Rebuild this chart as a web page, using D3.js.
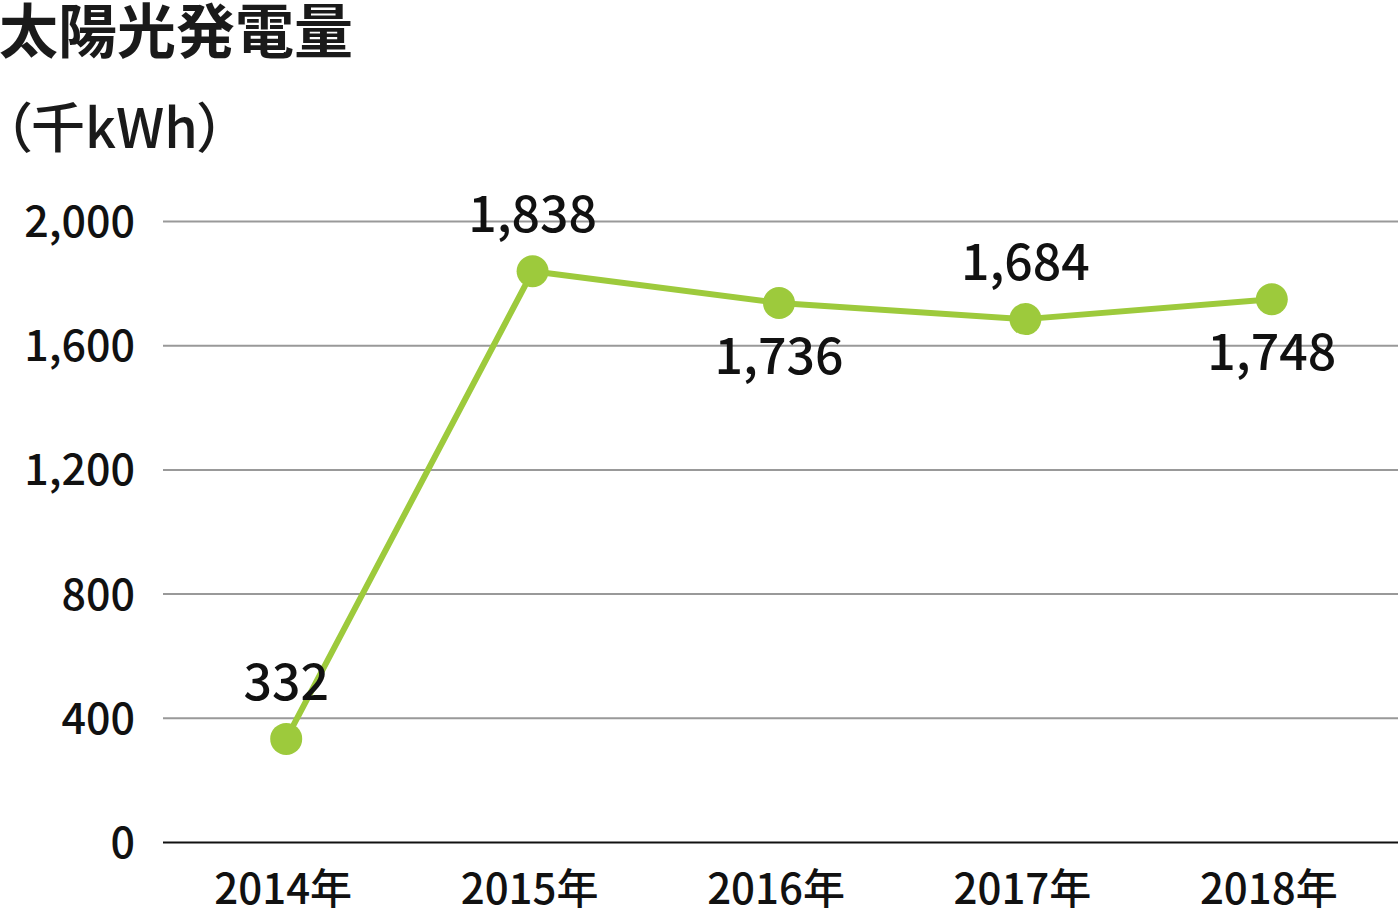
<!DOCTYPE html>
<html><head><meta charset="utf-8">
<script src="https://cdn.jsdelivr.net/npm/d3@7"></script>
<style>
html,body{margin:0;padding:0;background:#fff;}
text{font-family:"Noto Sans CJK JP","Noto Sans",sans-serif;}
</style></head>
<body><svg id="c" width="1398" height="911"></svg>
<script>
const categories = ["2014年","2015年","2016年","2017年","2018年"];
const values = [332, 1838, 1736, 1684, 1748];
const labelPos = ["above","above","below","above","below"];
const yTicks = [0, 400, 800, 1200, 1600, 2000];

const svg = d3.select("#c");
const mLeft = 163, mRight = 1398, mTop = 221, mBottom = 842;
const x = d3.scaleBand().domain(categories).range([mLeft, 1395]);
const y = d3.scaleLinear().domain([0, 2000]).range([mBottom, mTop]);
const fmt = d3.format(",");

svg.append("text").attr("x", -1).attr("y", 53).attr("font-size", 59).attr("font-weight", 700)
  .attr("fill", "#1a1a1a").text("太陽光発電量");
svg.append("text").attr("x", 4).attr("y", 148).attr("font-size", 54).attr("font-weight", 500)
  .style("font-feature-settings", '"palt" 1')
  .attr("fill", "#1a1a1a").text("（千kWh）");

const yAxis = d3.axisLeft(y).tickValues(yTicks).tickFormat(fmt).tickSize(-(mRight - mLeft)).tickPadding(28);
const gy = svg.append("g").attr("transform", `translate(${mLeft},0)`).call(yAxis);
gy.select(".domain").remove();
gy.selectAll(".tick line").attr("stroke", d => d === 0 ? "#111" : "#999").attr("stroke-width", 2);
gy.selectAll(".tick text").attr("font-size", 43).attr("font-weight", 500).attr("fill", "#111")
  .attr("font-family", '"Noto Sans CJK JP","Noto Sans",sans-serif').attr("dy", "0.36em");

const xAxis = d3.axisBottom(x).tickSize(0).tickPadding(0);
const gx = svg.append("g").attr("transform", `translate(0,${mBottom})`).call(xAxis);
gx.select(".domain").remove();
gx.selectAll(".tick text").attr("font-size", 42).attr("font-weight", 500).attr("fill", "#111")
  .attr("font-family", '"Noto Sans CJK JP","Noto Sans",sans-serif').attr("dy", null).attr("y", 62).attr("dx", -3);

const data = categories.map((c, i) => ({c, v: values[i], pos: labelPos[i]}));
const cx = d => x(d.c) + x.bandwidth() / 2;
const line = d3.line().x(cx).y(d => y(d.v));
svg.append("path").datum(data).attr("d", line).attr("fill", "none")
  .attr("stroke", "#9dca3c").attr("stroke-width", 6).attr("stroke-linejoin", "round");
svg.selectAll("circle.pt").data(data).join("circle").attr("class", "pt")
  .attr("cx", cx).attr("cy", d => y(d.v)).attr("r", 16).attr("fill", "#9dca3c");
svg.selectAll("text.lbl").data(data).join("text").attr("class", "lbl")
  .attr("x", cx).attr("y", d => d.pos === "above" ? y(d.v) - 39 : y(d.v) + 71)
  .attr("text-anchor", "middle").attr("font-size", 50).attr("font-weight", 500).attr("fill", "#111")
  .text(d => fmt(d.v));
</script></body></html>
